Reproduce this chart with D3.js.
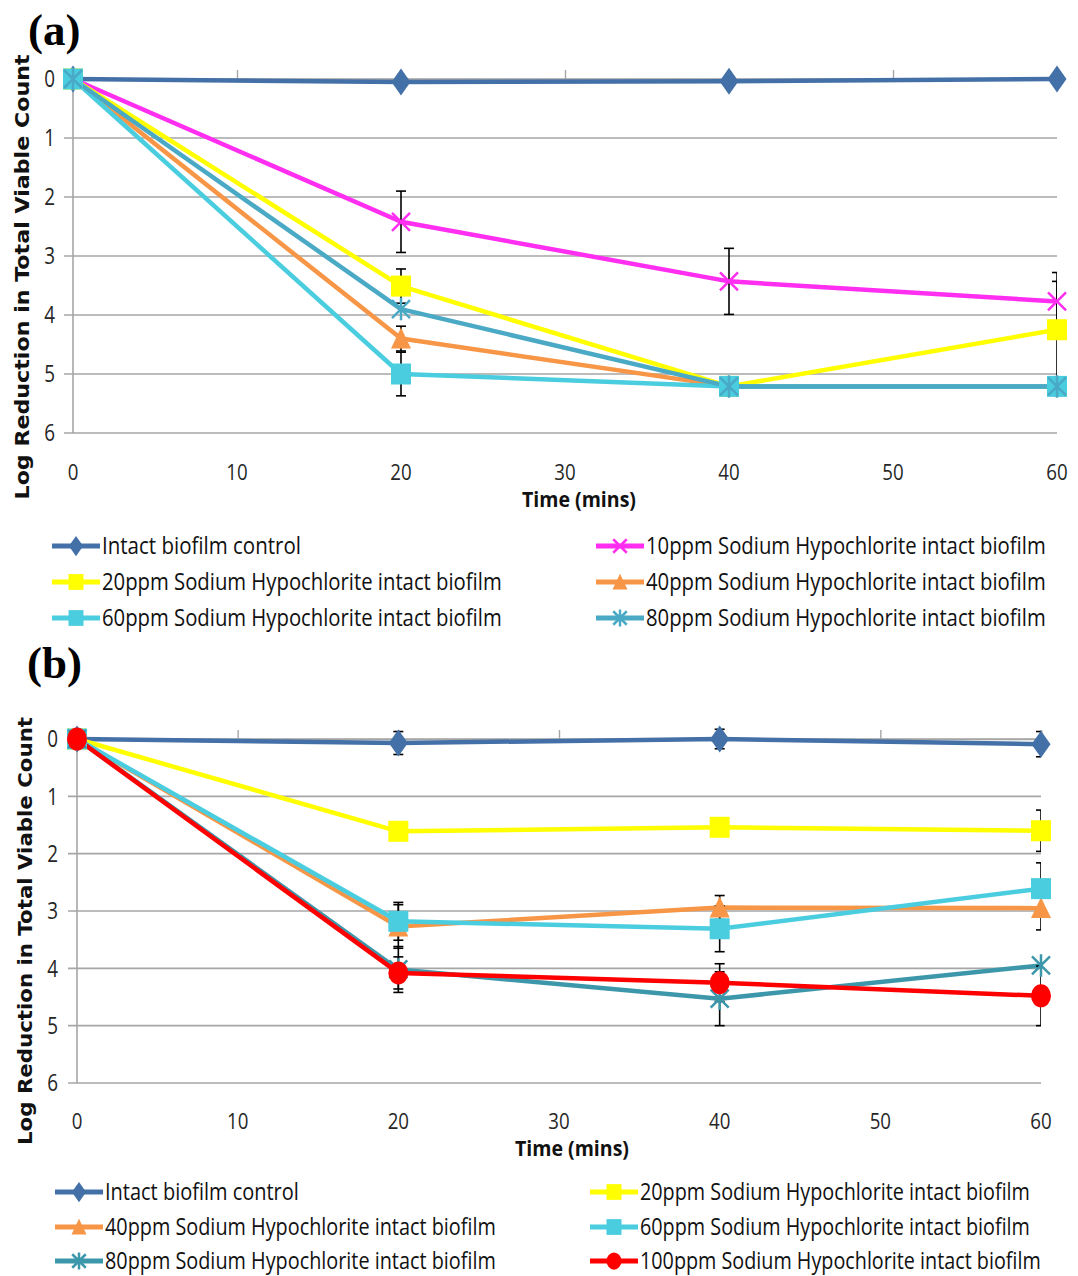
<!DOCTYPE html>
<html><head><meta charset="utf-8">
<script src="https://cdn.jsdelivr.net/npm/d3@7/dist/d3.min.js"></script>
<style>body{margin:0;background:#fff}</style>
</head><body>
<svg id="chart" width="1078" height="1276"></svg>
<script>
// ---------- DATA ----------
const timePoints = [0, 20, 40, 60];
const xTickValues = [0, 10, 20, 30, 40, 50, 60];
const yTickValues = [0, 1, 2, 3, 4, 5, 6];

// Panel (a)
const namesA = ["Intact biofilm control", "10ppm Sodium Hypochlorite intact biofilm",
  "20ppm Sodium Hypochlorite intact biofilm", "40ppm Sodium Hypochlorite intact biofilm",
  "60ppm Sodium Hypochlorite intact biofilm", "80ppm Sodium Hypochlorite intact biofilm"];
const controlA = [0, 0.05, 0.04, 0.0];
const ppm10A = [0, 2.42, 3.43, 3.77];
const ppm20A = [0, 3.51, 5.21, 4.25];
const ppm40A = [0, 4.40, 5.21, 5.21];
const ppm60A = [0, 5.00, 5.21, 5.21];
const ppm80A = [0, 3.90, 5.21, 5.21];
const controlAErr = [0, 0, 0, 0];
const ppm10AErr = [0, 0.52, 0.56, 0.49];
const ppm20AErr = [0, 0.29, 0, 0.82];
const ppm40AErr = [0, 0.21, 0, 0];
const ppm60AErr = [0, 0.37, 0, 0];
const ppm80AErr = [0, 0, 0, 0];

// Panel (b)
const namesB = ["Intact biofilm control", "20ppm Sodium Hypochlorite intact biofilm",
  "40ppm Sodium Hypochlorite intact biofilm", "60ppm Sodium Hypochlorite intact biofilm",
  "80ppm Sodium Hypochlorite intact biofilm", "100ppm Sodium Hypochlorite intact biofilm"];
const controlB = [0, 0.07, 0.0, 0.09];
const ppm20B = [0, 1.61, 1.54, 1.60];
const ppm40B = [0, 3.27, 2.94, 2.95];
const ppm60B = [0, 3.18, 3.31, 2.61];
const ppm80B = [0, 4.02, 4.53, 3.95];
const ppm100B = [0, 4.08, 4.25, 4.48];
const controlBErr = [0.15, 0.2, 0.17, 0.22];
const ppm20BErr = [0, 0, 0, 0.36];
const ppm40BErr = [0, 0.38, 0.21, 0.38];
const ppm60BErr = [0, 0.33, 0.40, 0.45];
const ppm80BErr = [0, 0.40, 0.47, 0];
const ppm100BErr = [0, 0.28, 0.33, 0.52];

// ---------- STYLE ----------
const C = {
  control: "#4470a8", magenta: "#ff2ef0", yellow: "#ffff00", orange: "#f79646",
  cyan: "#4bcde0", teal: "#4aa9c4", tealB: "#3d97aa", red: "#ff0000"
};
const tickFont = "'Open Sans',sans-serif";

const svg = d3.select("#chart");

// place a text at (x,y) and compress it horizontally to a target width
function fitText(sel, x, y, target) {
  const w = sel.node().getComputedTextLength();
  const sx = target ? target / w : 1;
  sel.attr("x", 0).attr("y", 0).attr("transform", `translate(${x},${y}) scale(${sx},1)`);
  return sel;
}

function marker(g, type, color, x, y, s) {
  s = s || 1;
  if (type === "diamond") {
    const w = 9.5 * s, h = 13.5 * s;
    g.append("path").attr("d", `M${x},${y - h}L${x + w},${y}L${x},${y + h}L${x - w},${y}Z`).attr("fill", color);
  } else if (type === "square") {
    const w = 10 * s, h = 10.5 * s;
    g.append("rect").attr("x", x - w).attr("y", y - h).attr("width", 2 * w).attr("height", 2 * h).attr("fill", color);
  } else if (type === "triangle") {
    const w = 10 * s, h = 11 * s;
    g.append("path").attr("d", `M${x},${y - h}L${x + w},${y + h * 0.9}L${x - w},${y + h * 0.9}Z`).attr("fill", color);
  } else if (type === "circle") {
    g.append("ellipse").attr("cx", x).attr("cy", y).attr("rx", 10 * s).attr("ry", 11.5 * s).attr("fill", color);
  } else if (type === "x") {
    const r = 9 * s;
    g.append("path").attr("d", `M${x - r},${y - r}L${x + r},${y + r}M${x - r},${y + r}L${x + r},${y - r}`)
      .attr("stroke", color).attr("stroke-width", 2.5).attr("fill", "none");
  } else if (type === "star") {
    const r = 9 * s;
    g.append("path").attr("d", `M${x - r},${y - r}L${x + r},${y + r}M${x - r},${y + r}L${x + r},${y - r}M${x},${y - r * 1.25}L${x},${y + r * 1.25}`)
      .attr("stroke", color).attr("stroke-width", 2.5).attr("fill", "none");
  }
}

function drawPanel(cfg) {
  const x = d3.scaleLinear().domain([0, 60]).range([cfg.x0, cfg.x1]);
  const y = d3.scaleLinear().domain([0, 6]).range([cfg.y0, cfg.y1]);
  const g = svg.append("g");
  const clipId = "clip" + cfg.id;
  svg.append("clipPath").attr("id", clipId).append("rect")
    .attr("x", cfg.x0 - 15).attr("y", cfg.y0 - 20).attr("width", cfg.x1 - cfg.x0 + 15).attr("height", cfg.y1 - cfg.y0 + 40);

  // gridlines
  g.append("g").selectAll("line").data(yTickValues).join("line")
    .attr("x1", cfg.x0 - 9).attr("x2", cfg.x1)
    .attr("y1", d => y(d)).attr("y2", d => y(d))
    .attr("stroke", "#a6a6a6").attr("stroke-width", 1.6);
  // y axis line
  g.append("line").attr("x1", cfg.x0).attr("x2", cfg.x0).attr("y1", cfg.y0).attr("y2", cfg.y1)
    .attr("stroke", "#a6a6a6").attr("stroke-width", 1.6);
  // x axis at top (y=0) with upward ticks
  const xAxis = d3.axisTop(x).tickValues(xTickValues).tickSize(9).tickFormat("");
  const xa = g.append("g").attr("transform", `translate(0,${cfg.y0})`).call(xAxis);
  xa.select(".domain").attr("stroke", "#a6a6a6").attr("stroke-width", 1.6);
  xa.selectAll(".tick line").attr("stroke", "#a6a6a6").attr("stroke-width", 1.4);

  // y tick labels
  g.append("g").selectAll("text").data(yTickValues).join("text")
    .attr("dy", "0.36em")
    .attr("text-anchor", "end").attr("font-family", tickFont).attr("font-size", 23).attr("fill", "#262626")
    .text(d => d)
    .attr("transform", d => `translate(${cfg.ylabX},${y(d)}) scale(0.82,1)`);
  // x tick labels (low position)
  g.append("g").selectAll("text").data(xTickValues).join("text")
    .attr("text-anchor", "middle").attr("font-family", tickFont).attr("font-size", 22).attr("fill", "#262626")
    .text(d => d)
    .attr("transform", d => `translate(${x(d)},${cfg.xlabY}) scale(0.85,1)`);
  // x axis title
  fitText(g.append("text").attr("text-anchor", "middle")
    .attr("font-family", tickFont).attr("font-weight", "bold").attr("font-size", 22).attr("fill", "#111")
    .text("Time (mins)"), cfg.xTitleX, cfg.xTitleY, 114);
  // y axis title
  g.append("text").attr("transform", `translate(${cfg.yTitleX},${cfg.yTitleY}) rotate(-90)`)
    .attr("text-anchor", "middle").attr("font-family", "'DejaVu Sans',Verdana,sans-serif")
    .attr("font-weight", "bold").attr("font-size", 20).attr("fill", "#111")
    .attr("textLength", cfg.yTitleLen).attr("lengthAdjust", "spacingAndGlyphs")
    .text("Log Reduction in Total Viable Count");
  // panel label
  g.append("text").attr("x", cfg.labX).attr("y", cfg.labY)
    .attr("font-family", "'Liberation Serif','Times New Roman',serif").attr("font-weight", "bold")
    .attr("font-size", 45).attr("fill", "#000").text(cfg.label);

  // series
  const line = d3.line().x((d, i) => x(timePoints[i])).y(d => y(d));
  const plot = g.append("g").attr("clip-path", `url(#${clipId})`);
  cfg.series.forEach(s => {
    plot.append("path").attr("d", line(s.values)).attr("fill", "none")
      .attr("stroke", s.color).attr("stroke-width", 4.5).attr("stroke-linejoin", "round");
    s.values.forEach((v, i) => {
      const e = s.err[i];
      if (!e) return;
      const px = x(timePoints[i]);
      const eg = plot.append("g").attr("stroke", "#000").attr("stroke-width", 1.6);
      eg.append("line").attr("x1", px).attr("x2", px).attr("y1", y(v - e)).attr("y2", y(v + e));
      eg.append("line").attr("x1", px - 5).attr("x2", Math.min(px + 5, cfg.x1)).attr("y1", y(v - e)).attr("y2", y(v - e));
      eg.append("line").attr("x1", px - 5).attr("x2", Math.min(px + 5, cfg.x1)).attr("y1", y(v + e)).attr("y2", y(v + e));
    });
    s.values.forEach((v, i) => marker(g, s.marker, s.color, x(timePoints[i]), y(v), 1));
  });

  // legend
  const lg = g.append("g");
  cfg.series.forEach((s, i) => {
    const col = i % 2, row = Math.floor(i / 2);
    const lx = cfg.legX[col], ly = cfg.legY[row];
    lg.append("line").attr("x1", lx).attr("x2", lx + 48).attr("y1", ly).attr("y2", ly)
      .attr("stroke", s.color).attr("stroke-width", 5);
    marker(lg, s.marker, s.color, lx + 24, ly, 0.75);
    fitText(lg.append("text").attr("dy", "0.36em")
      .attr("font-family", tickFont).attr("font-size", 23.5).attr("fill", "#111")
      .text(s.name), lx + 50, ly, cfg.legLen[i]);
  });
}

drawPanel({
  id: "a", label: "(a)", labX: 28, labY: 45,
  x0: 73, x1: 1057, y0: 79, y1: 433,
  ylabX: 55, xlabY: 480, xTitleX: 579, xTitleY: 507,
  yTitleX: 29, yTitleY: 277, yTitleLen: 445,
  legX: [52, 596], legY: [546, 582, 618], legLen: [199, 400, 400, 400, 400, 400],
  series: [
    { name: namesA[0], values: controlA, err: controlAErr, color: C.control, marker: "diamond" },
    { name: namesA[1], values: ppm10A, err: ppm10AErr, color: C.magenta, marker: "x" },
    { name: namesA[2], values: ppm20A, err: ppm20AErr, color: C.yellow, marker: "square" },
    { name: namesA[3], values: ppm40A, err: ppm40AErr, color: C.orange, marker: "triangle" },
    { name: namesA[4], values: ppm60A, err: ppm60AErr, color: C.cyan, marker: "square" },
    { name: namesA[5], values: ppm80A, err: ppm80AErr, color: C.teal, marker: "star" }
  ]
});

drawPanel({
  id: "b", label: "(b)", labX: 27, labY: 678,
  x0: 77, x1: 1041, y0: 739, y1: 1083,
  ylabX: 58, xlabY: 1129, xTitleX: 572, xTitleY: 1156,
  yTitleX: 32, yTitleY: 931, yTitleLen: 428,
  legX: [55, 590], legY: [1192, 1227, 1261], legLen: [194, 390, 391, 390, 391, 401],
  series: [
    { name: namesB[0], values: controlB, err: controlBErr, color: C.control, marker: "diamond" },
    { name: namesB[1], values: ppm20B, err: ppm20BErr, color: C.yellow, marker: "square" },
    { name: namesB[2], values: ppm40B, err: ppm40BErr, color: C.orange, marker: "triangle" },
    { name: namesB[3], values: ppm60B, err: ppm60BErr, color: C.cyan, marker: "square" },
    { name: namesB[4], values: ppm80B, err: ppm80BErr, color: C.tealB, marker: "star" },
    { name: namesB[5], values: ppm100B, err: ppm100BErr, color: C.red, marker: "circle" }
  ]
});
</script>
</body></html>
